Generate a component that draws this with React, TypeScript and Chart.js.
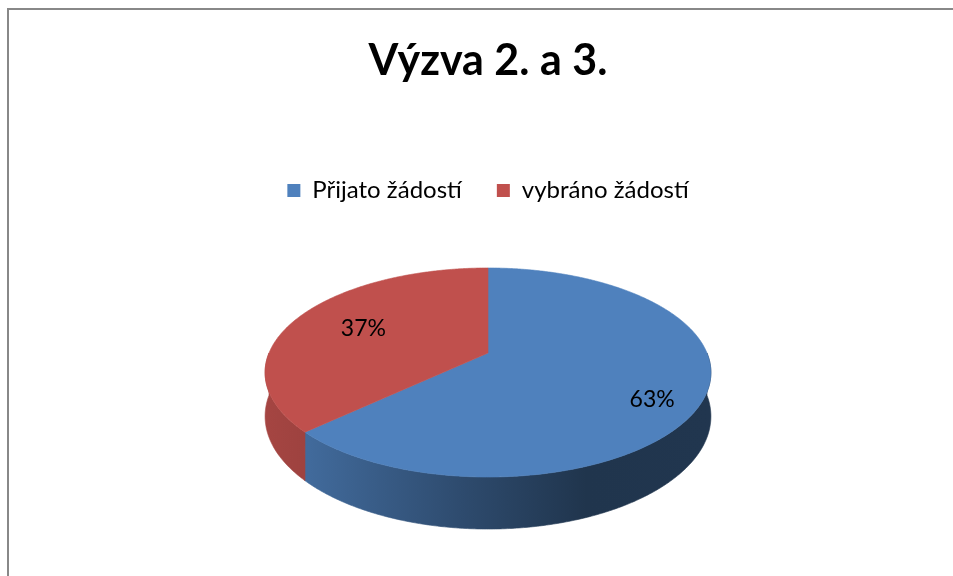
import React, { useEffect, useRef } from "react";
import { Chart, registerables } from "chart.js";

Chart.register(...registerables);

// ---- data ----
const TITLE = "Výzva 2. a 3.";
const CATEGORIES = ["Přijato žádostí", "vybráno žádostí"];
const VALUES = [63, 37];
const COLORS = ["#4F81BD", "#C0504D"];

// ---- style ----
const FONT = "Lato, 'Open Sans', sans-serif";
// 3D view of the pie, relative to the pie radius computed by Chart.js
const VIEW = { sx: 1.5587, sy: 0.7181, depth: 0.3011, persp: 0.1866 };
// side-wall shading factors along x (0 = left silhouette, 1 = right)
const SIDE_SHADE: [number, number][] = [
  [0, 0.86],
  [0.1, 0.82],
  [0.44, 0.58],
  [0.72, 0.41],
  [1, 0.42],
];
const LABEL_R = [0.77, 0.65];
const LABEL_Z = [0.3, 0];

function hexToRgb(hex: string): number[] {
  const h = hex.replace("#", "");
  return [0, 2, 4].map((i) => parseInt(h.slice(i, i + 2), 16));
}

const pie3d = {
  id: "pie3d",
  beforeDatasetsDraw(chart: any) {
    const ctx: CanvasRenderingContext2D = chart.ctx;
    const meta = chart.getDatasetMeta(0);
    const arcs = meta.data;
    if (!arcs.length) return false;
    const cx = arcs[0].x;
    const cy = arcs[0].y;
    const R = arcs[0].outerRadius;
    const SX = VIEW.sx * R;
    const SY = VIEW.sy * R;
    const H = VIEW.depth * R;
    const P = VIEW.persp;
    const topPt = (t: number, r = 1, z = 0) => {
      const u = Math.cos(t) * r;
      const v = Math.sin(t) * r;
      const w = 1 - P * v;
      return [cx + (SX * u) / w, cy + (SY * v + z * H) / w];
    };
    const botPt = (t: number) => topPt(t, 1, 1);
    const wmax = SX / Math.sqrt(1 - P * P);
    const angles = (s: number, e: number) => {
      const n = Math.max(2, Math.ceil((e - s) / (Math.PI / 360)));
      const out: number[] = [];
      for (let k = 0; k <= n; k++) out.push(s + ((e - s) * k) / n);
      return out;
    };

    ctx.save();
    // side walls (front half only)
    arcs.forEach((arc: any) => {
      const s = Math.max(arc.startAngle, 0);
      const e = Math.min(arc.endAngle, Math.PI);
      if (e <= s) return;
      const base = hexToRgb(arc.options.backgroundColor);
      const g = ctx.createLinearGradient(cx - wmax, 0, cx + wmax, 0);
      SIDE_SHADE.forEach(([t, f]) =>
        g.addColorStop(t, `rgb(${base.map((c) => Math.round(c * f)).join(",")})`)
      );
      const ts = angles(s, e);
      ctx.beginPath();
      ts.forEach((t, k) => {
        const [x, y] = topPt(t);
        if (k === 0) ctx.moveTo(x, y);
        else ctx.lineTo(x, y);
      });
      for (let k = ts.length - 1; k >= 0; k--) {
        const [x, y] = botPt(ts[k]);
        ctx.lineTo(x, y);
      }
      ctx.closePath();
      ctx.fillStyle = g;
      ctx.fill();
      ctx.strokeStyle = g;
      ctx.lineWidth = 0.6;
      ctx.stroke();
    });

    // top faces
    arcs.forEach((arc: any) => {
      const ts = angles(arc.startAngle, arc.endAngle);
      ctx.beginPath();
      ctx.moveTo(cx, cy);
      ts.forEach((t) => {
        const [x, y] = topPt(t);
        ctx.lineTo(x, y);
      });
      ctx.closePath();
      ctx.fillStyle = arc.options.backgroundColor;
      ctx.fill();
      ctx.strokeStyle = arc.options.backgroundColor;
      ctx.lineWidth = 0.6;
      ctx.stroke();
    });

    // percentage labels
    const data: number[] = chart.data.datasets[0].data;
    const total = data.reduce((a, b) => a + b, 0);
    ctx.fillStyle = "#000";
    ctx.font = `23px ${FONT}`;
    ctx.textAlign = "center";
    ctx.textBaseline = "middle";
    arcs.forEach((arc: any, i: number) => {
      const mid = (arc.startAngle + arc.endAngle) / 2;
      const [x, y] = topPt(mid, LABEL_R[i], LABEL_Z[i]);
      ctx.fillText(`${Math.round((data[i] / total) * 100)}%`, x, y);
    });
    ctx.restore();
    return false;
  },
};

export default function App() {
  const ref = useRef<HTMLCanvasElement | null>(null);

  useEffect(() => {
    document.documentElement.style.overflow = "hidden";
    const canvas = ref.current;
    if (!canvas) return;
    const chart = new Chart(canvas, {
      type: "pie",
      data: {
        labels: CATEGORIES,
        datasets: [
          {
            data: VALUES,
            backgroundColor: COLORS,
            borderWidth: 0,
            hoverOffset: 0,
            offset: 0,
          },
        ],
      },
      options: {
        responsive: false,
        animation: false,
        events: [],
        layout: { padding: { top: 0, bottom: 76.5, left: 0, right: 0 } },
        plugins: {
          title: {
            display: true,
            text: TITLE,
            color: "#000",
            font: { family: FONT, size: 43, weight: "bold" },
            padding: { top: 25, bottom: 56.9 },
          },
          legend: {
            display: true,
            position: "top",
            labels: {
              color: "#000",
              font: { family: FONT, size: 24 },
              boxWidth: 13,
              boxHeight: 13,
              padding: 35,
            },
          },
          tooltip: { enabled: false },
        },
      },
      plugins: [pie3d],
    });
    return () => chart.destroy();
  }, []);

  return (
    <div
      style={{
        position: "absolute",
        left: 7,
        top: 8,
        width: 980,
        height: 600,
        borderLeft: "2px solid #888888",
        borderTop: "2px solid #888888",
        background: "#fff",
      }}
    >
      <canvas ref={ref} width={958} height={560} style={{ display: "block" }} />
    </div>
  );
}
